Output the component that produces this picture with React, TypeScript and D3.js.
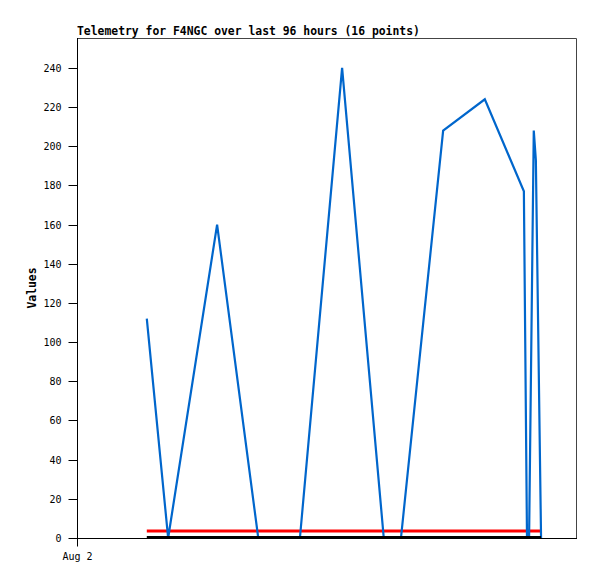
import React, { useEffect, useRef } from 'react';
import * as d3 from 'd3';

// hours since Aug 2 00:00
const hours: number[] = [13.4, 17.5, 26.9, 34.8, 42.8, 50.9, 58.9, 62.2, 70.3, 78.3, 85.8, 86.4, 86.8, 87.7, 88.1, 89.1];
const values: number[] = [112, 0, 160, 0, 0, 240, 0, 0, 208, 224, 177, 0, 0, 208, 193, 0];
const refRed = 3.6;
const refBlack = 0;
const yTicks: number[] = [0, 20, 40, 60, 80, 100, 120, 140, 160, 180, 200, 220, 240];
const xTickLabels: string[] = ['Aug 2'];
const title = 'Telemetry for F4NGC over last 96 hours (16 points)';

const App = () => {
  const ref = useRef<SVGSVGElement>(null);

  useEffect(() => {
    const svg = d3.select(ref.current);
    svg.selectAll('*').remove();

    const margin = { top: 38, right: 20, bottom: 41, left: 77 };
    const width = 597 - margin.left - margin.right;
    const height = 579 - margin.top - margin.bottom;
    const font = '"DejaVu Sans Mono", monospace';

    const start = new Date(2024, 7, 2, 0, 0);
    const end = d3.timeHour.offset(start, 96);
    const t = (h: number) => new Date(start.getTime() + h * 3600 * 1000);

    const x = d3.scaleTime().domain([start, end]).range([0, width]);
    const y = d3.scaleLinear().domain([0, 255.3]).range([height, 0]);

    svg.append('rect').attr('width', 597).attr('height', 579).attr('fill', '#fff');

    const g = svg.append('g').attr('transform', `translate(${margin.left},${margin.top})`);

    // frame top/right
    g.append('path')
      .attr('d', `M0.5,0.5H${width - 0.5}V${height}`)
      .attr('fill', 'none')
      .attr('stroke', '#444')
      .attr('stroke-width', 1);

    // y axis
    const yAxis = g.append('g').attr('transform', 'translate(0.5,0)');
    yAxis.append('line').attr('y1', 0).attr('y2', height).attr('stroke', '#000');
    yAxis
      .selectAll('g.tick')
      .data(yTicks)
      .enter()
      .append('g')
      .attr('transform', (d) => `translate(0,${Math.round(y(d)) + 0.5})`)
      .each(function (d) {
        const tk = d3.select(this);
        tk.append('line').attr('x1', -9).attr('x2', 0).attr('stroke', '#000');
        tk.append('text')
          .attr('x', -16)
          .attr('dy', '0.35em')
          .attr('text-anchor', 'end')
          .attr('font-family', font)
          .attr('font-size', 10)
          .text(String(d));
      });

    // x axis
    const xAxis = g.append('g').attr('transform', `translate(0,${height + 0.5})`);
    xAxis.append('line').attr('x1', 0).attr('x2', width).attr('stroke', '#000');
    xAxis
      .selectAll('g.tick')
      .data(xTickLabels)
      .enter()
      .append('g')
      .attr('transform', () => `translate(${x(start) + 0.5},0)`)
      .each(function (d) {
        const tk = d3.select(this);
        tk.append('line').attr('y1', 0).attr('y2', 8).attr('stroke', '#000');
        tk.append('text')
          .attr('y', 21)
          .attr('text-anchor', 'middle')
          .attr('font-family', font)
          .attr('font-size', 10)
          .text(d);
      });

    const x0 = x(t(hours[0]));
    const x1 = x(t(hours[hours.length - 1]));

    // red reference line
    g.append('line')
      .attr('x1', x0).attr('x2', x1)
      .attr('y1', y(refRed)).attr('y2', y(refRed))
      .attr('stroke', '#ff0000').attr('stroke-width', 3);

    const line = d3
      .line<number>()
      .x((d, i) => x(t(hours[i])))
      .y((d) => y(d));

    g.append('path')
      .datum(values)
      .attr('d', line)
      .attr('fill', 'none')
      .attr('stroke', '#0066cc')
      .attr('stroke-width', 2.2)
      .attr('stroke-linejoin', 'miter');

    // black baseline on top
    g.append('line')
      .attr('x1', x0).attr('x2', x1)
      .attr('y1', y(refBlack) - 0.5).attr('y2', y(refBlack) - 0.5)
      .attr('stroke', '#000').attr('stroke-width', 3);

    // title
    svg.append('text')
      .attr('x', 77)
      .attr('y', 35)
      .attr('font-family', font)
      .attr('font-size', 11.4)
      .attr('font-weight', 'bold')
      .text(title);

    // y label
    svg.append('text')
      .attr('transform', `translate(36,${margin.top + height / 2}) rotate(-90)`)
      .attr('text-anchor', 'middle')
      .attr('font-family', font)
      .attr('font-size', 11.4)
      .attr('font-weight', 'bold')
      .text('Values');
  }, []);

  return <svg ref={ref} width={597} height={579} style={{ position: 'absolute', left: 0, top: 0 }} />;
};

export default App;
